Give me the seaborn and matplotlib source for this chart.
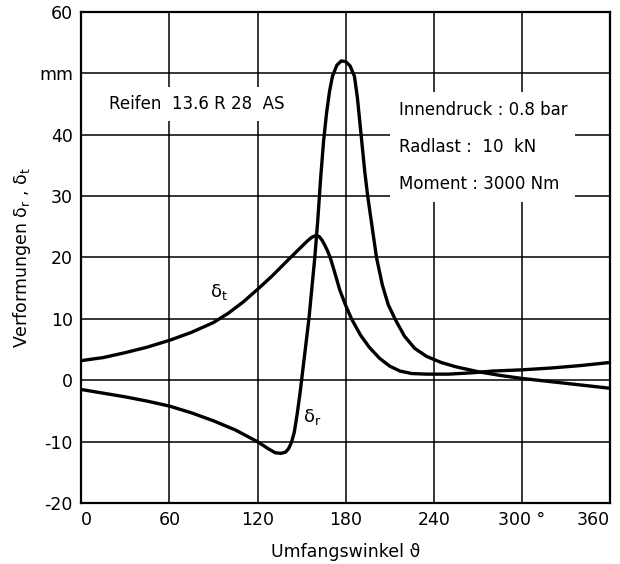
import numpy as np
import pandas as pd
import seaborn as sns
import matplotlib.pyplot as plt

# Werte (Umfangswinkel in Grad, Verformung in mm)
theta_t = [0, 15, 30, 45, 60, 75, 90, 100, 110, 120, 130, 140, 148, 154, 157, 160, 162,
           164, 166, 168, 170, 173, 176, 180, 184, 190, 196, 203, 210, 217, 225, 235,
           250, 265, 280, 300, 320, 340, 360]
delta_t = [3.2, 3.7, 4.5, 5.4, 6.5, 7.8, 9.4, 10.9, 12.7, 14.8, 17.0, 19.4, 21.3, 22.7,
           23.3, 23.6, 23.4, 22.8, 21.9, 20.9, 19.6, 17.2, 14.7, 12.2, 10.0, 7.4, 5.4,
           3.6, 2.3, 1.5, 1.1, 1.0, 1.0, 1.2, 1.5, 1.7, 2.0, 2.4, 2.9]

theta_r = [0, 15, 30, 45, 60, 75, 90, 105, 120, 127, 132, 136, 139, 141, 143, 145, 147,
           149, 151, 153, 155, 157, 159, 161, 163, 165, 167, 169, 171, 174, 177, 180,
           183, 186, 188, 190.5, 193, 195, 198, 201, 205, 209, 214, 220, 227, 235,
           245, 255, 270, 285, 300, 330, 360]
delta_r = [-1.5, -2.1, -2.7, -3.4, -4.2, -5.3, -6.6, -8.1, -10.0, -11.1, -11.8, -11.9,
           -11.7, -11.2, -10.2, -8.5, -5.5, -2.0, 2.0, 6.0, 10.0, 15.0, 20.0, 26.0, 33.0,
           39.0, 43.5, 47.0, 49.5, 51.3, 52.0, 51.9, 51.2, 49.5, 46.0, 40.0, 34.0, 30.0,
           25.0, 20.0, 15.5, 12.3, 9.8, 7.2, 5.2, 3.9, 2.9, 2.2, 1.4, 0.8, 0.3, -0.5, -1.3]

x_ticks = [0, 60, 120, 180, 240, 300, 360]
x_labels = ["0", "60", "120", "180", "240", "300 °", "360"]
y_ticks = [-20, -10, 0, 10, 20, 30, 40, 50, 60]
y_labels = ["-20", "-10", "0", "10", "20", "30", "40", "mm", "60"]

df_t = pd.DataFrame({"theta": theta_t, "delta": delta_t})
df_r = pd.DataFrame({"theta": theta_r, "delta": delta_r})

sns.set_style("white")
plt.rcParams["font.family"] = ["DejaVu Sans"]
plt.rcParams["text.color"] = "black"
plt.rcParams["axes.labelcolor"] = "black"
plt.rcParams["xtick.color"] = "black"
plt.rcParams["ytick.color"] = "black"

fig = plt.figure(figsize=(6.2, 5.64), dpi=100)
ax = fig.add_axes([0.131, 0.108, 0.853, 0.871])

sns.lineplot(data=df_t, x="theta", y="delta", color="black", lw=2.4, ax=ax, zorder=4)
sns.lineplot(data=df_r, x="theta", y="delta", color="black", lw=2.4, ax=ax, zorder=4)

ax.set_xlim(0, 360)
ax.set_ylim(-20, 60)
ax.set_xticks(x_ticks)
ax.set_xticklabels(x_labels)
ax.set_yticks(y_ticks)
ax.set_yticklabels(y_labels)
ax.tick_params(length=0, labelsize=12.5, pad=6)
xl = ax.get_xticklabels()
xl[0].set_ha("left")
xl[-1].set_ha("right")
ax.grid(True, color="black", lw=1.1)
ax.set_axisbelow(True)
for s in ax.spines.values():
    s.set_color("black")
    s.set_linewidth(1.6)

ax.set_xlabel(r"Umfangswinkel ϑ", fontsize=12.5, labelpad=10)
ax.set_ylabel(r"Verformungen δ$_\mathregular{r}$ , δ$_\mathregular{t}$", fontsize=12.5, labelpad=4)

# Beschriftungen mit weissem Hintergrund (verdecken das Gitter)
ax.text(19, 45, "Reifen  13.6 R 28  AS", fontsize=12, va="center", ha="left", zorder=3,
        bbox=dict(facecolor="white", edgecolor="none", pad=6))
ax.text(216, 38, "Innendruck : 0.8 bar\n\nRadlast :  10  kN\n\nMoment : 3000 Nm",
        fontsize=12, va="center", ha="left", linespacing=1.05, zorder=3,
        bbox=dict(facecolor="white", edgecolor="none", pad=6))

ax.text(94, 14.3, r"δ$_\mathregular{t}$", fontsize=13, ha="center", va="center")
ax.text(157, -6, r"δ$_\mathregular{r}$", fontsize=13, ha="center", va="center")

plt.savefig("out.png", dpi=100)
